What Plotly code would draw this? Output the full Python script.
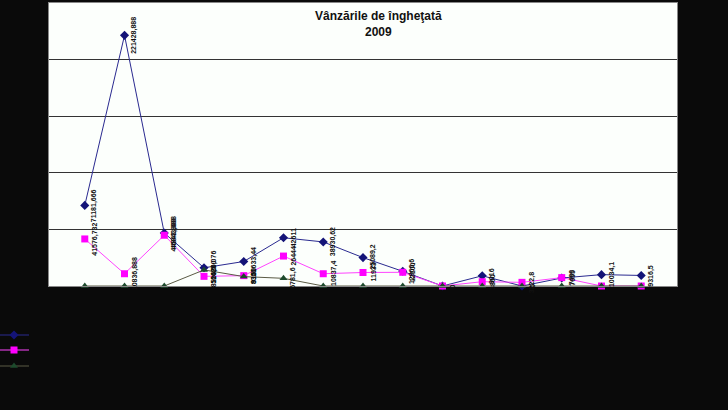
import plotly.graph_objects as go

categories = [str(i) for i in range(1, 16)]
series_names = ["Seria 1", "Seria 2", "Seria 3"]
blue_vals = [71181.666, 221428.888, 46843.888, 16086.076, 21633.44, 42611, 38930.62,
             25089.2, 12966.6, 0, 9016, 0, 7055, 10034.1, 9316.5]
magenta_vals = [41576.732, 10836.888, 44843.888, 8526.5, 9150, 26444, 10837.4,
                11933, 12100, 0, 3800, 3222.8, 7400, 0, 0]
green_vals = [0, 0, 0, 14200, 8300, 6781.6, 0, 0, 0, 0, 0, 0, 0, 0, 0]
title_lines = ["Vânzările de îngheţată", "2009"]


def fmt(v):
    s = ("%.3f" % v).rstrip("0").rstrip(".")
    return s.replace(".", ",")


fig = go.Figure()
styles = [
    (blue_vals, "#2a2a90", "#141478", "diamond", 7, "legend"),
    (magenta_vals, "#ff44ff", "#ff00ff", "square", 7, "legend2"),
    (green_vals, "#5a5a44", "#1d4a2c", "triangle-up", 7, "legend3"),
]
for name, (vals, lc, mc, sym, ms, lg) in zip(series_names, styles):
    fig.add_trace(go.Scatter(
        x=categories, y=vals, name=name, mode="lines+markers",
        line=dict(color=lc, width=1),
        marker=dict(symbol=sym, size=ms, color=mc, line=dict(width=0)),
        cliponaxis=False, legend=lg,
    ))

annotations = []
for vals, show_zero in [(blue_vals, True), (magenta_vals, False), (green_vals, False)]:
    for i, v in enumerate(vals):
        if v == 0 and not show_zero:
            continue
        annotations.append(dict(
            x=i, y=v, xref="x", yref="y", text="<b>" + fmt(v) + "</b>", showarrow=False,
            textangle=-90, xshift=10, xanchor="center", yanchor="middle",
            font=dict(family="Liberation Sans Narrow, Liberation Sans, Arial", size=7,
                      color="#111111"),
        ))

annotations.append(dict(
    x=382 / 728, y=(286 - 24) / 283, xref="paper", yref="paper",
    text="<b>" + title_lines[0] + "<br>" + title_lines[1] + "</b>",
    showarrow=False, xanchor="center", yanchor="middle",
    font=dict(family="Liberation Sans, Arial", size=12, color="#111111"),
))


def leg(ypix):
    return dict(xref="paper", yref="paper", x=(-6 - 49) / 628, y=(286 - ypix) / 283,
                xanchor="left", yanchor="middle", bgcolor="rgba(0,0,0,0)",
                font=dict(size=8, color="#0a0a0a"), itemwidth=30)


fig.update_layout(
    width=728, height=410,
    margin=dict(l=49, r=51, t=3, b=124, autoexpand=False),
    paper_bgcolor="#0a0a0a", plot_bgcolor="#fcfffc",
    showlegend=True,
    legend=leg(335), legend2=leg(350), legend3=leg(366),
    annotations=annotations,
)
fig.update_xaxes(showgrid=False, showticklabels=False, ticks="",
                 showline=True, linecolor="#888888", mirror=True, zeroline=False)
fig.update_yaxes(range=[0, 250000], dtick=50000, showgrid=True, gridcolor="#333333",
                 gridwidth=1, showticklabels=False, ticks="", zeroline=False,
                 showline=True, linecolor="#888888", mirror=True)

fig.write_html("out.html", config={"displayModeBar": False},
               post_script="document.body.style.margin='0px';document.body.style.background='#0a0a0a';")
